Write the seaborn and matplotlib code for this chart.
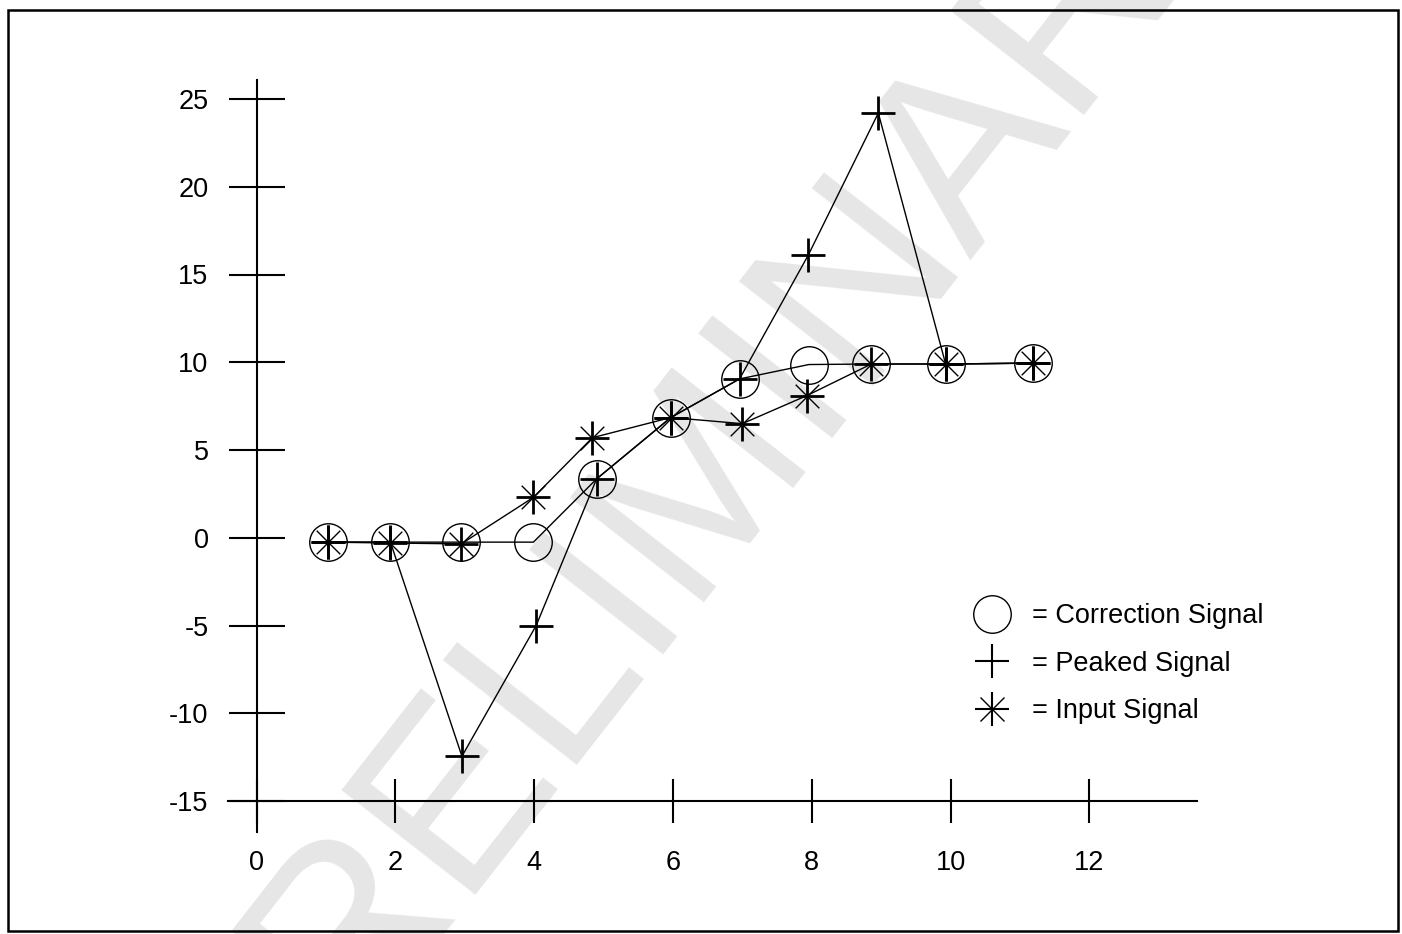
import matplotlib
matplotlib.use("Agg")
import matplotlib.pyplot as plt
import seaborn as sns
from matplotlib.lines import Line2D
from matplotlib.patches import Rectangle

# ---- data ----
correction_x = [1.03, 1.93, 2.95, 3.99, 4.90, 5.97, 6.96, 7.96, 8.86, 9.93, 11.19]
correction_y = [-0.25, -0.25, -0.25, -0.25, 3.35, 6.85, 9.05, 9.87, 9.90, 9.90, 9.95]

peaked_x = [1.03, 1.93, 2.96, 4.03, 4.90, 5.97, 6.96, 7.95, 8.96, 9.93, 11.19]
peaked_y = [-0.25, -0.25, -12.45, -5.0, 3.35, 6.85, 9.05, 16.1, 24.2, 9.90, 9.95]

input_x = [1.03, 1.93, 2.95, 3.99, 4.84, 5.97, 7.00, 7.93, 8.86, 9.93, 11.19]
input_y = [-0.25, -0.30, -0.35, 2.3, 5.7, 6.85, 6.5, 8.1, 9.9, 9.9, 9.95]

x_ticks = [0, 2, 4, 6, 8, 10, 12]
y_ticks = [-15, -10, -5, 0, 5, 10, 15, 20, 25]
legend_labels = ["= Correction Signal", "= Peaked Signal", "= Input Signal"]
watermark = "PRELIMINARY"

# ---- style ----
sns.set_style("white")
plt.rcParams["font.family"] = ["Liberation Sans", "DejaVu Sans"]
plt.rcParams["axes.unicode_minus"] = False

W, H = 1402, 934
FS = 19.5
fig = plt.figure(figsize=(W / 100, H / 100), dpi=100)
fig.patch.set_facecolor("white")
ax = fig.add_axes([0, 0, 1, 1])
ax.set_facecolor("none")

# pixel mapping: x=0 -> 256.5 px, 69.4 px/unit ; y=0 -> 537.75 px from top, 17.55 px/unit
x0px, sx = 256.5, 69.4
y0px, sy = 537.75, 17.55
ax.set_xlim(-x0px / sx, (W - x0px) / sx)
ax.set_ylim((y0px - H) / sy, y0px / sy)

# watermark
fig.text(0.506, 0.50, watermark, rotation=52, ha="center", va="center",
         rotation_mode="anchor", fontsize=178, color="#e6e6e6", zorder=-5)

# frame around figure
fig.patches.append(Rectangle((8 / W, 3.5 / H), (1398 - 8) / W, (930.5 - 10) / H,
                             transform=fig.transFigure, fill=False,
                             edgecolor="black", linewidth=1.8, zorder=10))

# series
sns.lineplot(x=correction_x, y=correction_y, ax=ax, sort=False, estimator=None,
             color="black", linewidth=1.0, marker="o", markersize=27,
             mfc="none", mec="black", mew=1.0, zorder=3)
sns.lineplot(x=peaked_x, y=peaked_y, ax=ax, sort=False, estimator=None,
             color="black", linewidth=1.0, marker="+", markersize=24,
             mec="black", mew=2.0, zorder=4)
sns.lineplot(x=input_x, y=input_y, ax=ax, sort=False, estimator=None,
             color="black", linewidth=1.0, marker="+", markersize=24,
             mec="black", mew=2.0, zorder=5)
sns.scatterplot(x=input_x, y=input_y, ax=ax, marker="x", s=17 ** 2,
                color="black", linewidth=1.0, zorder=6)

# axes: spines at x=0 and y=-15
for side in ("top", "right"):
    ax.spines[side].set_visible(False)
ax.spines["left"].set_position(("data", 0))
ax.spines["bottom"].set_position(("data", -15))
ax.spines["left"].set_bounds((y0px - 832) / sy, (y0px - 80) / sy)
ax.spines["bottom"].set_bounds((228 - x0px) / sx, (1197 - x0px) / sx)
for side in ("left", "bottom"):
    ax.spines[side].set_linewidth(1.5)
    ax.spines[side].set_color("black")

ax.set_xticks(x_ticks)
ax.set_yticks(y_ticks)
ax.set_xticklabels([str(v) for v in x_ticks])
ax.set_yticklabels([str(v) for v in y_ticks])
ax.tick_params(axis="y", direction="inout", length=41, width=1.5, pad=14.0,
               labelsize=FS, left=True, right=False, colors="black")
ax.tick_params(axis="x", direction="inout", length=32, width=1.5, pad=19,
               labelsize=FS, bottom=True, top=False, colors="black")
ax.set_xlabel("")
ax.set_ylabel("")

# legend
h_corr = Line2D([], [], linestyle="none", marker="o", markersize=27,
                mfc="none", mec="black", mew=1.0)
h_peak = Line2D([], [], linestyle="none", marker="+", markersize=24,
                mec="black", mew=1.5)
h_in_a = Line2D([], [], linestyle="none", marker="+", markersize=24,
                mec="black", mew=1.5)
h_in_b = Line2D([], [], linestyle="none", marker="x", markersize=17,
                mec="black", mew=1.0)
leg = ax.legend([h_corr, h_peak, (h_in_a, h_in_b)], legend_labels,
                loc="upper left", bbox_to_anchor=(978.5 / W, 1 - 603 / H),
                bbox_transform=fig.transFigure, frameon=False, fontsize=FS,
                handlelength=1.0, handletextpad=0.98, labelspacing=0.8,
                borderpad=0, borderaxespad=0)
for t in leg.get_texts():
    t.set_color("black")

fig.savefig("out.png", dpi=100)
